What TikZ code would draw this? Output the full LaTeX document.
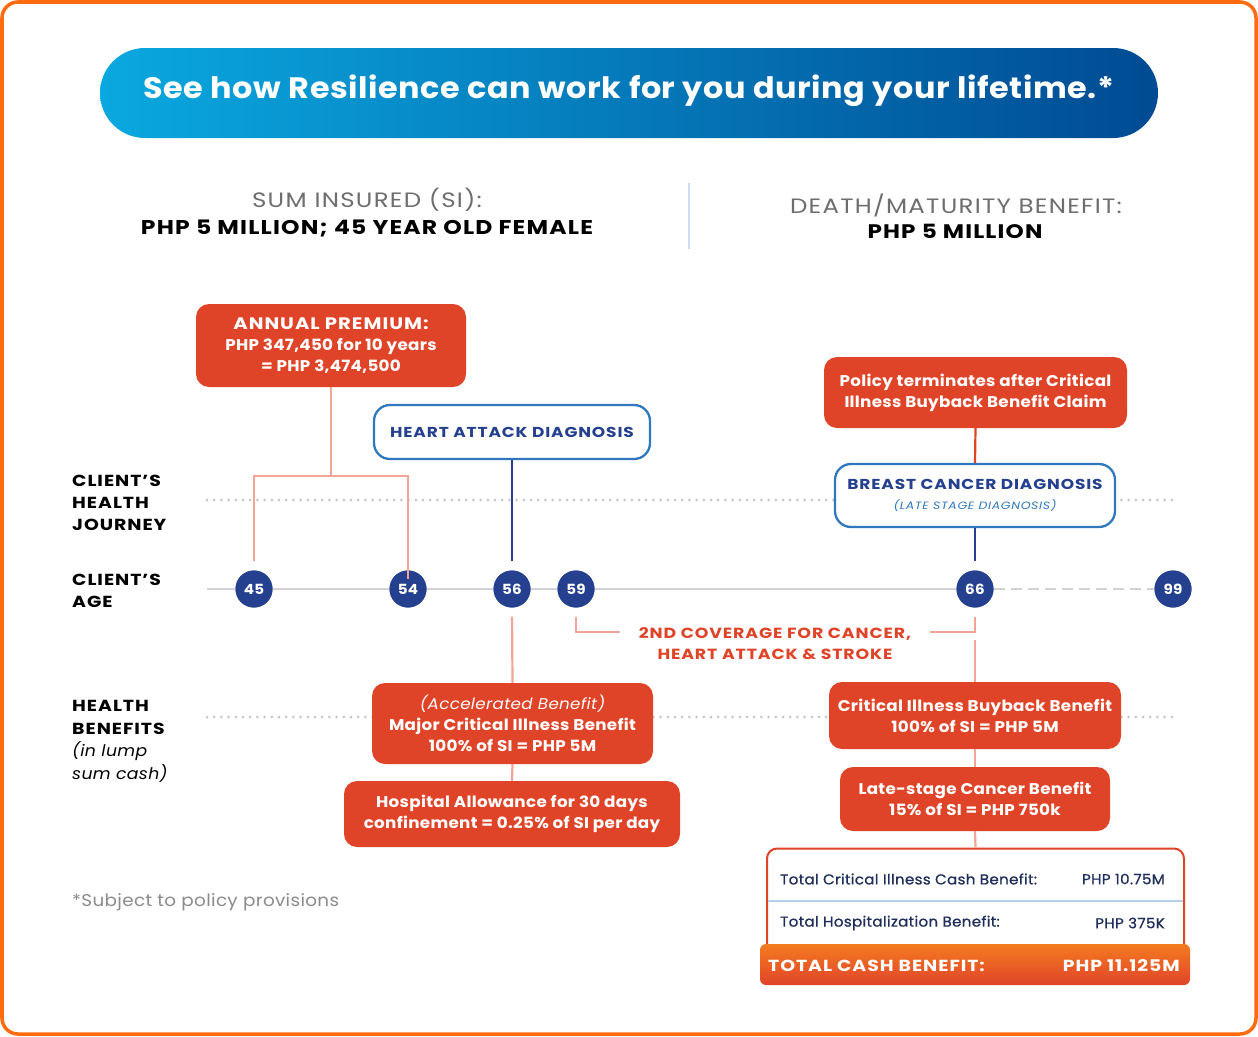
\documentclass[tikz,border=0pt]{standalone}
\usepackage{fontspec}
\setmainfont{Poppins}[FakeStretch=1.08, LetterSpace=2]
\newfontfamily\capsf{Poppins}[FakeStretch=1.18, LetterSpace=6]
\newfontfamily\medf{Poppins}[FakeStretch=1.06, LetterSpace=2, FakeBold=0.8]
\usetikzlibrary{positioning,calc}
\definecolor{cborder}{HTML}{FF6B0F}
\definecolor{cred}{HTML}{E04428}
\definecolor{cpink}{HTML}{F2A496}
\definecolor{cdblue}{HTML}{24408E}
\definecolor{cbblue}{HTML}{2F78BE}
\definecolor{cgrayline}{HTML}{D2D2D2}
\definecolor{cdot}{HTML}{C6C6C6}
\definecolor{cgraytext}{HTML}{6E6E6E}
\definecolor{cnavy}{HTML}{1F2F5A}
\definecolor{cgl}{HTML}{0AA8E0}
\definecolor{cgr}{HTML}{004B93}
\definecolor{corangetop}{HTML}{F47B20}
\definecolor{corangebot}{HTML}{E0442A}
\newcommand{\fs}[2]{\fontsize{#1}{#2}\selectfont}
\tikzset{
  redbox/.style={rounded corners=13pt, fill=cred, text=white, font=\bfseries\fs{15.5}{21}, align=center, inner sep=0pt},
  bluebox/.style={rounded corners=16pt, draw=cbblue, line width=2.3pt, fill=white, text=cdblue, font=\capsf\bfseries\fs{14.4}{20}, align=center, inner sep=0pt},
  agecircle/.style={circle, fill=cdblue, text=white, font=\bfseries\fs{14}{14}, minimum size=37pt, inner sep=0pt},
  pinkline/.style={draw=cpink, line width=2.2pt},
  dblueline/.style={draw=cdblue, line width=2.2pt},
  redline/.style={draw=cred, line width=2.2pt},
  dotline/.style={draw=cdot, line width=3pt, line cap=round, dash pattern=on 0pt off 7.2pt},
  sidelabel/.style={anchor=north west, font=\capsf\bfseries\fs{16}{22}, text=black, align=left, inner sep=0pt},
  rowtext/.style={font=\medf\fs{14.3}{14.3}, text=cnavy, inner sep=0pt},
  tottext/.style={font=\capsf\bfseries\fs{16}{16}, text=white, inner sep=0pt},
}
\begin{document}
\begin{tikzpicture}[x=1pt,y=-1pt]
\useasboundingbox (0,0) rectangle (1258,1036);
\fill[white] (0,0) rectangle (1258,1036);
\draw[cborder, line width=3.5pt, rounded corners=16pt] (2,2) rectangle (1256,1034);
% banner
\shade[left color=cgl, right color=cgr, rounded corners=45pt] (100,48) rectangle (1158,138);
\node[font=\bfseries\fs{29.5}{30}, text=white] (title) at (629,91) {See how Resilience can work for you during your lifetime.*};
% header
\node[font=\capsf\fs{20.8}{21}, text=cgraytext] (si1) at (367,200) {SUM INSURED (SI):};
\node[font=\capsf\bfseries\fs{19.9}{20}, text=black] (si2) at (367,229) {PHP 5 MILLION; 45 YEAR OLD FEMALE};
\coordinate (dv1) at (689,183);
\coordinate (dv2) at (689,249);
\draw[draw=cbblue!25, line width=1.2pt] (dv1) -- (dv2);
\node[font=\capsf\fs{20.8}{21}, text=cgraytext] (dm1) at (956,205) {DEATH/MATURITY BENEFIT:};
\node[font=\capsf\bfseries\fs{19.6}{20}, text=black] (dm2) at (955,231) {PHP 5 MILLION};
% side labels
\node[sidelabel] (lj) at (72,475) {CLIENT’S\\HEALTH\\JOURNEY};
\node[sidelabel] (la) at (72,574) {CLIENT’S\\AGE};
\node[sidelabel, font=\capsf\bfseries\fs{16}{22.7}] (lb) at (72,700) {HEALTH\\BENEFITS\\{\rmfamily\mdseries\itshape (in lump}\\{\rmfamily\mdseries\itshape sum cash)}};
\node[anchor=west, font=\fs{17}{17}, text=cgraytext!80, inner sep=0pt] (foot) at (72,902) {*Subject to policy provisions};
% dotted lines
\coordinate (d1a) at (207,500); \coordinate (d1b) at (1178,500);
\coordinate (d2a) at (207,717); \coordinate (d2b) at (1178,717);
\draw[dotline] (d1a) -- (d1b);
\draw[dotline] (d2a) -- (d2b);
% timeline
\coordinate (t0) at (207,589);
\node[agecircle] (c45) at (254,589) {45};
\node[agecircle] (c54) at (408,589) {54};
\node[agecircle] (c56) at (512,589) {56};
\node[agecircle] (c59) at (576,589) {59};
\node[agecircle] (c66) at (975,589) {66};
\node[agecircle] (c99) at (1173,589) {99};
\draw[cgrayline, line width=2.5pt] (t0) -- (c45) -- (c54) -- (c56) -- (c59) -- (c66);
\draw[cgrayline, line width=2.5pt, dash pattern=on 11pt off 6pt] (c66.east) -- (c99.west);
\foreach \c/\t in {c45/45,c54/54,c56/56,c59/59,c66/66,c99/99}{
  \node[agecircle] at (\c) {\t};
}
% boxes
\node[redbox, minimum width=270pt, minimum height=83pt] (prem) at (331,345.5) {{\capsf\fs{16.6}{21}ANNUAL PREMIUM:}\\PHP 347,450 for 10 years\\= PHP 3,474,500};
\node[bluebox, minimum width=276pt, minimum height=54pt] (heart) at (512,432) {HEART ATTACK DIAGNOSIS};
\node[redbox, minimum width=303pt, minimum height=71pt] (policy) at (975.5,392.5) {Policy terminates after Critical\\Illness Buyback Benefit Claim};
\node[bluebox, minimum width=280pt, minimum height=63pt] (breast) at (975,495.5) {BREAST CANCER DIAGNOSIS\\{\mdseries\itshape\fs{10.6}{16}\color{cbblue}(LATE STAGE DIAGNOSIS)}};
\node[redbox, minimum width=281pt, minimum height=81pt] (major) at (512.5,723.5) {{\mdseries\itshape (Accelerated Benefit)}\\Major Critical Illness Benefit\\100\% of SI = PHP 5M};
\node[redbox, minimum width=336pt, minimum height=66pt] (hosp) at (512,814) {Hospital Allowance for 30 days\\confinement = 0.25\% of SI per day};
\node[redbox, minimum width=292pt, minimum height=67pt] (buy) at (975,715.5) {Critical Illness Buyback Benefit\\100\% of SI = PHP 5M};
\node[redbox, minimum width=270pt, minimum height=64pt] (late) at (975,799) {Late-stage Cancer Benefit\\15\% of SI = PHP 750k};
% coverage bracket
\node[font=\capsf\bfseries\fs{14.7}{21}, text=cred, align=center, inner sep=0pt] (cov) at (775,643.5) {2ND COVERAGE FOR CANCER,\\HEART ATTACK \& STROKE};
\coordinate (bl) at (620,632);
\coordinate (br) at (930,632);
\coordinate (bk) at (975,640);
% table
\node[draw=cred, line width=2pt, fill=white, rounded corners=10pt, minimum width=417pt, minimum height=115pt, inner sep=0pt] (tab) at (975.5,906) {};
\coordinate (sepL) at (768,901);
\coordinate (sepR) at (1183,901);
\draw[draw=cbblue!35, line width=1.2pt] (sepL) -- (sepR);
\node[rowtext, anchor=west] (r1l) at (780,879) {Total Critical Illness Cash Benefit:};
\node[rowtext, anchor=east] (r1r) at (1165,879) {PHP 10.75M};
\node[rowtext, anchor=west] (r2l) at (780,923) {Total Hospitalization Benefit:};
\node[rowtext, anchor=east] (r2r) at (1165,923) {PHP 375K};
\shade[top color=corangetop, bottom color=corangebot, rounded corners=6pt] (760,944) rectangle (1190,985);
\node[tottext, anchor=west] (totl) at (768,966) {TOTAL CASH BENEFIT:};
\node[tottext, anchor=east] (totr) at (1180,966) {PHP 11.125M};
% connectors
\coordinate (pj) at (331,476);
\draw[pinkline] (prem.south) -- (pj);
\draw[pinkline, shorten <=9pt] (c45.north) |- (pj) -| ([yshift=-9pt]c54.north);
\draw[dblueline, shorten <=9pt] (c56.north) -- (heart.south);
\draw[redline] (policy.south) -- (breast.north);
\draw[dblueline, shorten >=9pt] (breast.south) -- (c66.north);
\draw[pinkline, shorten <=9pt] (c56.south) -- (major.north);
\draw[pinkline] (major.south) -- (hosp.north);
\draw[pinkline, shorten <=9pt] (c59.south) |- (bl);
\draw[pinkline, shorten >=9pt] (br) -| (c66.south);
\draw[pinkline] (bk) -- (buy.north);
\draw[pinkline] (buy.south) -- (late.north);
\draw[pinkline] (late.south) -- (tab.north);
\end{tikzpicture}
\end{document}
